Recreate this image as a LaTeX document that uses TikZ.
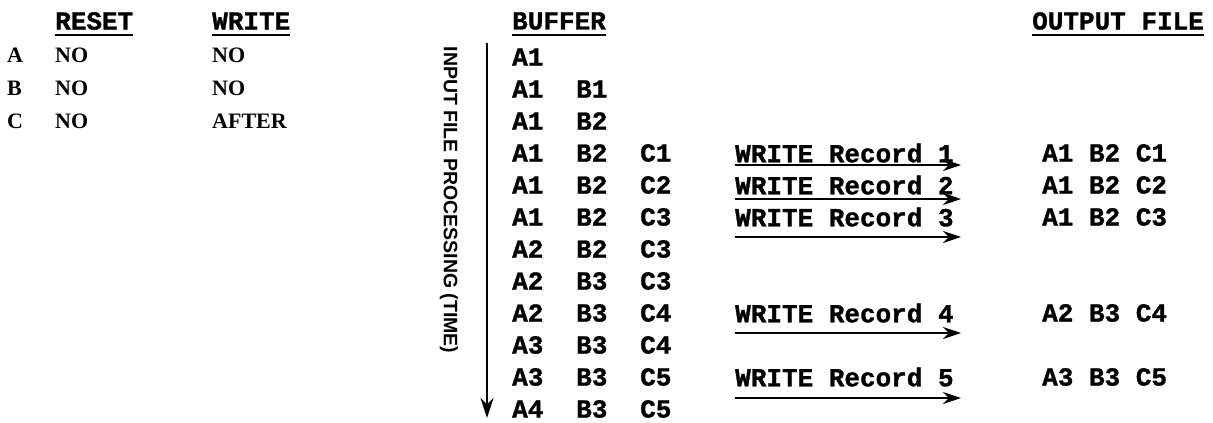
\documentclass[tikz,border=0pt]{standalone}
\usepackage{fontspec}
\setmonofont{Liberation Mono}[BoldFeatures={FakeBold=1.2}]
\newfontfamily\timefont{Liberation Sans}
\newfontfamily\flagfont{Liberation Serif}
\usetikzlibrary{arrows.meta}

\tikzset{
  cell/.style={anchor=west, inner sep=0pt, font=\ttfamily\bfseries\fontsize{26}{26}\selectfont},
  flag/.style={anchor=west, inner sep=0pt, font=\flagfont\bfseries\fontsize{22}{22}\selectfont},
  uline/.style={line width=2pt},
  wrarrow/.style={line width=1.6pt, -{Stealth[length=18pt,width=12pt]}},
  timearrow/.style={line width=1.6pt, -{Stealth[length=20pt,width=13pt]}}
}

\begin{document}
\begin{tikzpicture}[x=1pt,y=-1pt]
  \useasboundingbox (0,0) rectangle (1213,423);

  % Column headings
  \node[cell] (reset) at (55,21) {RESET};
  \node[cell] (write) at (212,21) {WRITE};
  \node[cell] (buffer) at (512,21) {BUFFER};
  \node[cell] (outfile) at (1032,21) {OUTPUT FILE};
  \foreach \h in {reset, write, buffer, outfile}
    \draw[uline] ([yshift=-5pt]\h.south west) -- ([yshift=-5pt]\h.south east);

  % Reset / write table
  \node[flag] (fa) at (7,55) {A};
  \node[flag] (fb) at (7,88) {B};
  \node[flag] (fc) at (7,121) {C};
  \node[flag] (ra) at (55,55) {NO};
  \node[flag] (rb) at (55,88) {NO};
  \node[flag] (rc) at (55,121) {NO};
  \node[flag] (wa) at (212,55) {NO};
  \node[flag] (wb) at (212,88) {NO};
  \node[flag] (wc) at (212,121) {AFTER};

  % Time axis
  \coordinate (ttop) at (487,43);
  \coordinate (tend) at (487,418);
  \draw[timearrow] (ttop) -- (tend);
  \node[rotate=-90, inner sep=0pt, font=\timefont\bfseries\fontsize{19.5}{19.5}\selectfont] (tlabel) at (449,200) {INPUT FILE PROCESSING (TIME)};

  % Buffer contents
  \node[cell] (a1) at (512,57) {A1};
  \node[cell] (a2) at (512,89) {A1};
  \node[cell] (b2) at (576,89) {B1};
  \node[cell] (a3) at (512,121) {A1};
  \node[cell] (b3) at (576,121) {B2};
  \foreach \i/\a/\b/\c in {4/A1/B2/C1, 5/A1/B2/C2, 6/A1/B2/C3, 7/A2/B2/C3,
      8/A2/B3/C3, 9/A2/B3/C4, 10/A3/B3/C4, 11/A3/B3/C5, 12/A4/B3/C5} {
    \pgfmathsetmacro\rowy{57+32*(\i-1)}
    \node[cell] (a\i) at (512,\rowy) {\a};
    \node[cell] (b\i) at (576,\rowy) {\b};
    \node[cell] (c\i) at (640,\rowy) {\c};
  }

  % Write records and output file
  \foreach \r/\i/\ay in {1/4/165, 2/5/199, 3/6/237, 4/9/333, 5/11/398} {
    \pgfmathsetmacro\rowy{57+32*(\i-1)}
    \node[cell] (rec\r) at (735,\rowy) {WRITE Record \r};
    \coordinate (ws\r) at (735,\ay);
    \coordinate (we\r) at (961,\ay);
    \draw[wrarrow] (ws\r) -- (we\r);
  }
  \node[cell] (out1) at (1042,153) {A1 B2 C1};
  \node[cell] (out2) at (1042,185) {A1 B2 C2};
  \node[cell] (out3) at (1042,217) {A1 B2 C3};
  \node[cell] (out4) at (1042,313) {A2 B3 C4};
  \node[cell] (out5) at (1042,377) {A3 B3 C5};
\end{tikzpicture}
\end{document}
